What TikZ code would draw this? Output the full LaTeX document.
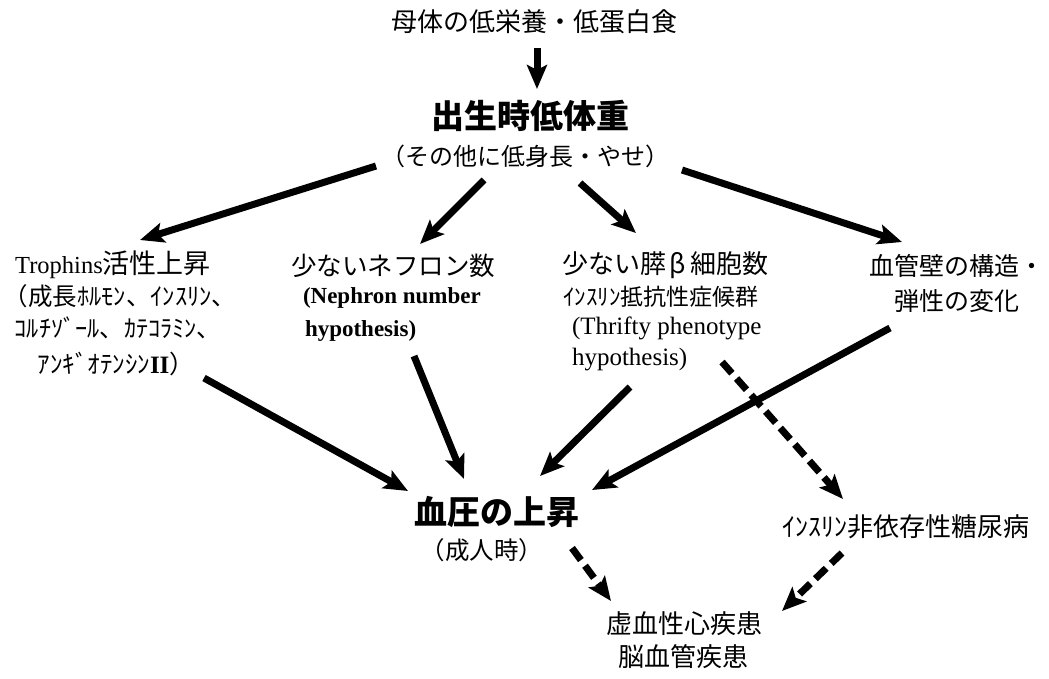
\documentclass[tikz,border=0pt]{standalone}
\usepackage{fontspec}
\setmainfont{Liberation Serif}
\newfontfamily\jp{Noto Sans CJK JP}
\usetikzlibrary{arrows.meta}
\newcommand{\fs}[1]{\fontsize{#1}{#1}\selectfont}
\tikzset{
  txt/.style={inner sep=0pt, outer sep=0pt},
  arr/.style={line width=7pt, -{Stealth[length=24pt,width=20pt,inset=5pt]}},
  darr/.style={arr, dash pattern=on 15pt off 7pt},
}
\begin{document}
\begin{tikzpicture}[x=1pt,y=-1pt]
\useasboundingbox (0,0) rectangle (1049,678);
\fill[white] (0,0) rectangle (1049,678);
% top
\node[txt] (mat) at (534,22) {\jp\fs{26}母体の低栄養・低蛋白食};
\node[txt] (lbw) at (530,116) {\jp\bfseries\fs{33}出生時低体重};
\node[txt] (oth) at (525,156) {\jp\fs{24}（その他に低身長・やせ）};
% left column
\node[txt] (tro1) at (113,265) {\fs{24.5}Trophins\jp\fs{27}活性上昇};
\node[txt] (tro2) at (120,296) {\jp\fs{24.5}（成長ﾎﾙﾓﾝ、ｲﾝｽﾘﾝ、};
\node[txt] (tro3) at (118,328) {\jp\fs{24.3}ｺﾙﾁｿﾞｰﾙ、ｶﾃｺﾗﾐﾝ、};
\node[txt] (tro4) at (116,364) {\jp\fs{25}ｱﾝｷﾞｵﾃﾝｼﾝ{\rmfamily\bfseries II}）};
% nephron
\node[txt] (nep1) at (393,266) {\jp\fs{25.5}少ないネフロン数};
\node[txt,anchor=west] (nep2) at (303,298) {\bfseries\fs{23}(Nephron number};
\node[txt,anchor=west] (nep3) at (305,331) {\bfseries\fs{23}hypothesis)};
% beta cell
\node[txt,anchor=west] (bet1) at (562,265) {\jp\fs{26}少ない膵\kern4ptβ\kern4pt細胞数};
\node[txt,anchor=west] (bet2) at (563,297) {\jp\fs{23}ｲﾝｽﾘﾝ抵抗性症候群};
\node[txt,anchor=west] (bet3) at (572,328) {\fs{25}(Thrifty phenotype};
\node[txt,anchor=west] (bet4) at (572,360) {\fs{25}hypothesis)};
% vascular
\node[txt] (vas1) at (957,266) {\jp\fs{25}血管壁の構造・};
\node[txt] (vas2) at (957,301) {\jp\fs{25}弾性の変化};
% lower
\node[txt] (bp1) at (497,512) {\jp\bfseries\fs{33}血圧の上昇};
\node[txt] (bp2) at (482,550) {\jp\fs{24.5}（成人時）};
\node[txt] (dm) at (906,527) {\jp\fs{26}ｲﾝｽﾘﾝ非依存性糖尿病};
\node[txt] (ihd1) at (684,624) {\jp\fs{26}虚血性心疾患};
\node[txt] (ihd2) at (683,657) {\jp\fs{26}脳血管疾患};
% connector ends
\coordinate (a0s) at (537,48);  \coordinate (a0e) at (537,89);
\coordinate (a1s) at (376,166); \coordinate (a1e) at (140,240);
\coordinate (a2s) at (484,180); \coordinate (a2e) at (420,244);
\coordinate (a3s) at (580,183); \coordinate (a3e) at (636,233);
\coordinate (a4s) at (682,170); \coordinate (a4e) at (902,242);
\coordinate (a5s) at (204,378); \coordinate (a5e) at (408,491);
\coordinate (a6s) at (414,356); \coordinate (a6e) at (464,479);
\coordinate (a7s) at (630,387); \coordinate (a7e) at (540,476);
\coordinate (a8s) at (890,328); \coordinate (a8e) at (592,490);
\coordinate (d9s) at (722,362); \coordinate (d9e) at (843,499);
\coordinate (d10s) at (572,548); \coordinate (d10e) at (611,601);
\coordinate (d11s) at (842,553); \coordinate (d11e) at (782,611);
\draw[arr] (a0s) -- (a0e);
\draw[arr] (a1s) -- (a1e);
\draw[arr] (a2s) -- (a2e);
\draw[arr] (a3s) -- (a3e);
\draw[arr] (a4s) -- (a4e);
\draw[arr] (a5s) -- (a5e);
\draw[arr] (a6s) -- (a6e);
\draw[arr] (a7s) -- (a7e);
\draw[arr] (a8s) -- (a8e);
\draw[darr] (d9s) -- (d9e);
\draw[darr] (d10s) -- (d10e);
\draw[darr] (d11s) -- (d11e);
\end{tikzpicture}
\end{document}
